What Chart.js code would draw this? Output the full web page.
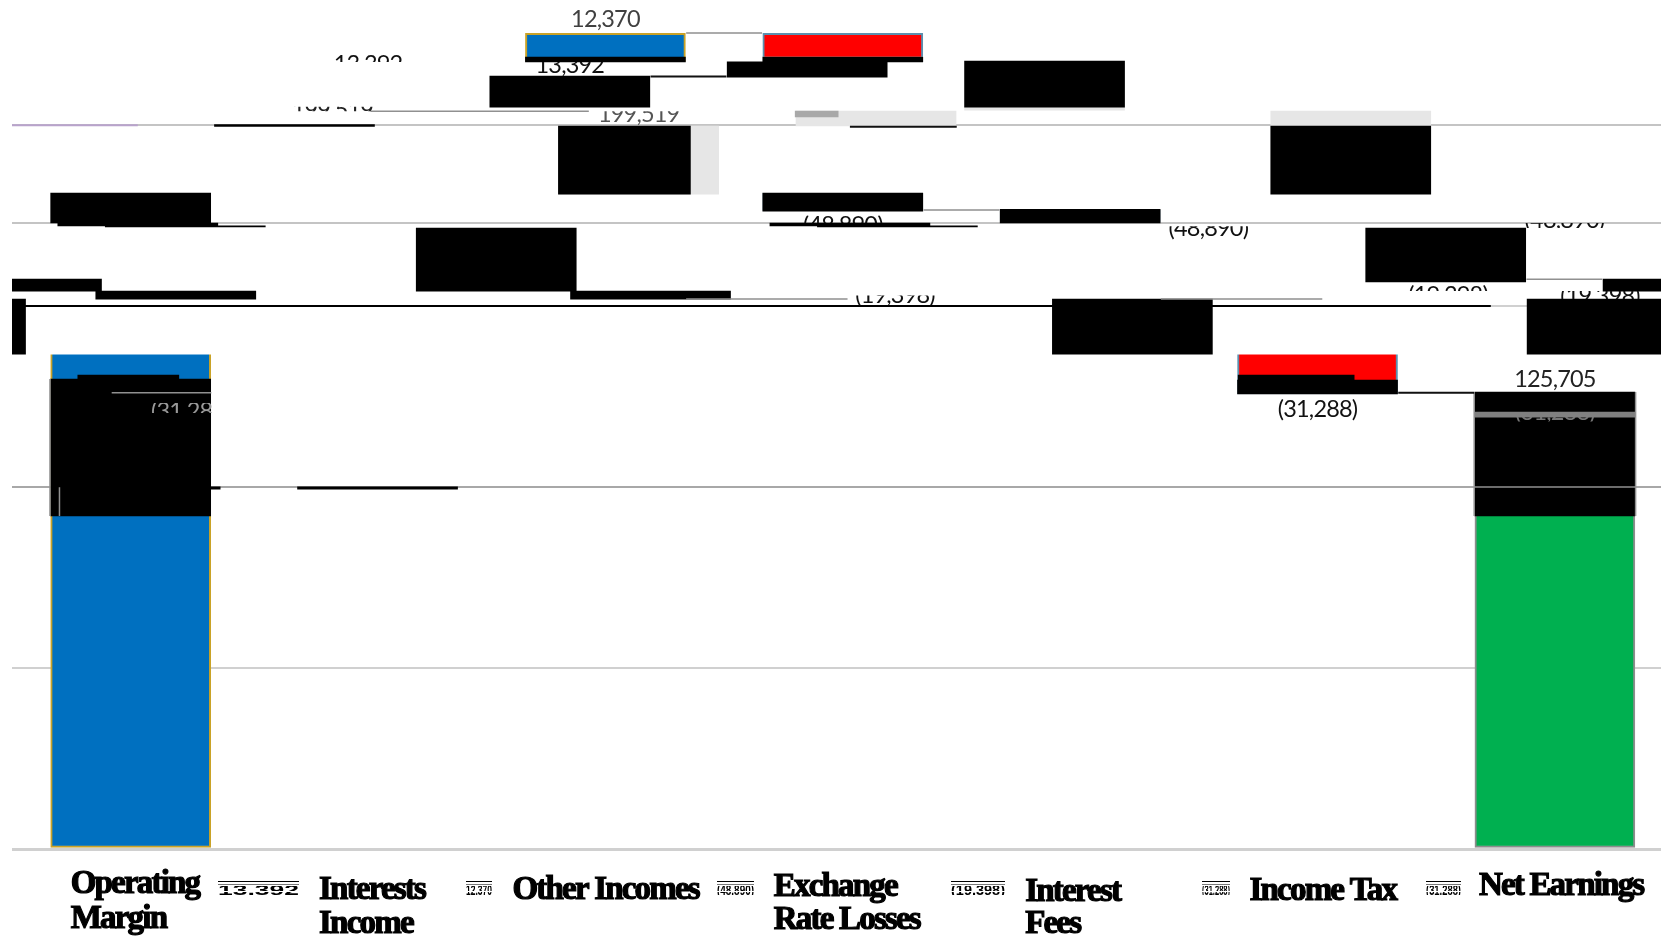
<!DOCTYPE html>
<html>
<head>
<meta charset="utf-8">
<title>Net earnings bridge</title>
<script src="https://cdn.jsdelivr.net/npm/chart.js@4"></script>
<style>
    html, body { margin: 0; padding: 0; background: #fff; overflow: hidden; }
    canvas { display: block; }
</style>
</head>
<body>
<canvas id="bridgeChart" width="1661" height="938"></canvas>
<script>
const categories = ['Operating Margin', 'Interests Income', 'Other Incomes', 'Exchange Rate Losses', 'Interest Fees', 'Income Tax', 'Net Earnings'];
const stepValues = [199519, 13392, 12370, -48890, -19398, -31288, 125705];
const stepFill = ['#0070C0', '#0070C0', '#0070C0', '#FF0000', '#FF0000', '#FF0000', '#00B050'];
const stepBorder = ['#C9A227', '#C9A227', '#C9A227', '#5B8FAE', '#5B8FAE', '#5B8FAE', '#8C8C8C'];

// white slices across the steps
const blankX = [0, 1, 2, 3, 4, 5];
const blankHigh = [199800, 213300, 217400, 218700, 172900, 157100];
const blankLow = [136700, 199300, 212700, 181200, 156700, 136700];

// black slices, all one step wide
const blackX = [2, 3, 2.85, 1.85, 3.85, 5.14, 0, 0.03, 0.23, 3, 4, 3.03, 3.23, 1.54, 2.19, 0.19, -0.46, -0.78, 4.22, 5.54, 6.54, 6.22, 0.69, 1.04, 0.04, 0, 5, 6];
const blackHigh = [218700, 218700, 217400, 213500, 217650, 199700, 181200, 172900, 172100, 181200, 176700, 172900, 172100, 171500, 154100, 154100, 157400, 151900, 151900, 171500, 157400, 151900, 200100, 100000, 100000, 129800, 129500, 126200];
const blackLow = [217400, 217400, 213200, 204900, 204900, 180900, 172900, 172100, 171800, 176200, 172900, 172100, 171800, 154100, 151900, 151900, 154100, 136700, 136700, 156600, 154100, 136700, 199600, 99400, 99400, 92000, 125700, 92000];

// narrower slices
const sliceX = [2.08];
const sliceHigh = [199700];
const sliceLow = [180900];
const notchOpX = [-0.01];
const notchOpHigh = [130900];
const notchOpLow = [129800];
const notchTaxX = [4.91];
const notchTaxHigh = [130900];
const notchTaxLow = [129500];
const darkPatchX = [2.89];
const darkPatchHigh = [203800];
const darkPatchLow = [202200];

// pale and mid grey slices
const paleX = [2.14, 3.14, 5.14, 3.85];
const paleHigh = [199700, 203800, 203800, 204900];
const paleLow = [180900, 199700, 199700, 204100];
const midGreyX = [6];
const midGreyHigh = [120700];
const midGreyLow = [119300];

// thin rules: start, end, start value, end value
const ruleX0 = [-0.5, -0.5];
const ruleX1 = [6.45, 6.45];
const ruleY0 = [172900, 200000];
const ruleY1 = [172900, 200000];

const blackRuleX0 = [-0.5];
const blackRuleX1 = [5.73];
const blackRuleY0 = [150000];
const blackRuleY1 = [150000];

const greyX0 = [1.01, 2.34, 2.34, 4.34, 5.88, 3.34, -0.08, -0.30, -0.34, 5.66, 6.34, 5.66];
const greyX1 = [1.93, 2.66, 3.02, 5.02, 6.2, 3.66, 0.34, -0.30, -0.34, 5.66, 6.34, 6.34];
const greyY0 = [203800, 225400, 151900, 151900, 157400, 176500, 126000, 99900, 129800, 126200, 126200, 100000];
const greyY1 = [203800, 225400, 151900, 151900, 157400, 176500, 126000, 92000, 92000, 92000, 92000, 100000];

const darkX0 = [2.19, 5.34, 3.03];
const darkX1 = [2.51, 5.66, 3.48];
const darkY0 = [213400, 126000, 199500];
const darkY1 = [213400, 126000, 199500];

const tintX0 = [-0.5];
const tintX1 = [0.03];
const tintY0 = [199900];
const tintY1 = [199900];

const tickValues = [0, 50000, 100000, 150000, 200000];

// value labels, some of them only partly showing
const formatStep = v => (v < 0 ? '(' + Math.abs(v).toLocaleString('en-US') + ')' : v.toLocaleString('en-US'));
const labelStep = [2, 1, 1, 0, 0, 3, 3, 4, 4, 4, 5, 5, 6, 3, 5];
const labelX = [2, 1, 1.85, 0.85, 2.14, 3, 4.54, 3.22, 5.55, 6.19, 0.215, 5, 6, 6.04, 6];
const labelY = [229200, 216800, 216500, 203900, 203000, 172350, 171500, 152900, 153000, 152500, 121000, 121300, 129800, 173700, 120700];
const labelClipHigh = [234000, 220000, 217400, 205000, 203800, 175000, 172000, 152900, 156300, 154100, 123200, 125000, 133000, 172900, 119300];
const labelClipLow = [224000, 217400, 213500, 203800, 200000, 172900, 168000, 150200, 154100, 151900, 120400, 118000, 126300, 171500, 118100];
const labelColor = ['#404040', '#111', '#111', '#222', '#555', '#111', '#111', '#111', '#111', '#111', '#999', '#111', '#222', '#111', '#777'];

// category names as they wrap under the axis
const tickLines = [['Operating', 'Margin'], ['Interests', 'Income'], ['Other Incomes'], ['Exchange', 'Rate Losses'], ['Interest', 'Fees'], ['Income Tax'], ['Net Earnings']];
const tickOffset = [-60, -49, -93, -69, -55, -68, -76];
const tickBaseline = [[893, 928], [899, 933], [899], [896, 929], [901, 933], [900], [895]];

// squashed value text left between the category names
const shardStep = [1, 2, 3, 4, 5, 5];
const shardLeft = [218, 466, 717, 951, 1202, 1426];
const shardRight = [299, 492, 754, 1005, 1230, 1461];

// waterfall: first and last from zero, the rest float on the running total
const stepBars = [];
let runningTotal = 0;
stepValues.forEach((v, i) => {
    if (i === 0 || i === stepValues.length - 1) {
        stepBars.push({ x: i, y: [0, v] });
        runningTotal = v;
    } else {
        stepBars.push({ x: i, y: [runningTotal, runningTotal + v] });
        runningTotal += v;
    }
});

function slices(xs, highs, lows) {
    return xs.map((x, i) => ({ x: x, y: [lows[i], highs[i]] }));
}

// pairs of points with a gap between them, for the line datasets
function segments(x0, x1, y0, y1) {
    const points = [];
    x0.forEach((x, i) => {
        points.push({ x: x, y: y0[i] }, { x: x1[i], y: y1[i] }, { x: x1[i], y: null });
    });
    return points;
}

function sliceDataset(data, color, order, thickness) {
    return { type: 'bar', data: data, backgroundColor: color, borderWidth: 0, barThickness: thickness, order: order };
}

function lineDataset(data, color, order, width) {
    return { type: 'line', data: data, borderColor: color, borderWidth: width, pointRadius: 0, spanGaps: false, tension: 0, fill: false, order: order };
}

// text drawn on the chart through its scales
const textPlugin = {
    id: 'bridgeText',
    afterDatasetsDraw(chart) {
        const { ctx } = chart;
        const xScale = chart.scales.x;
        const yScale = chart.scales.y;

        ctx.save();
        ctx.textAlign = 'center';
        ctx.textBaseline = 'middle';
        ctx.font = '23.5px Lato';
        ctx.letterSpacing = '-0.8px';
        labelStep.forEach((step, i) => {
            const top = yScale.getPixelForValue(labelClipHigh[i]);
            const bottom = yScale.getPixelForValue(labelClipLow[i]);
            let text = formatStep(stepValues[step]);
            if (i === 10) text = text.slice(0, 6);
            ctx.save();
            ctx.beginPath();
            ctx.rect(0, top, chart.width, bottom - top);
            ctx.clip();
            ctx.fillStyle = labelColor[i];
            ctx.fillText(text, xScale.getPixelForValue(labelX[i]), yScale.getPixelForValue(labelY[i]));
            ctx.restore();
        });
        ctx.restore();

        ctx.save();
        ctx.textAlign = 'left';
        ctx.textBaseline = 'alphabetic';
        ctx.fillStyle = '#000';
        ctx.strokeStyle = '#000';
        ctx.lineWidth = 1.2;
        ctx.font = 'bold 33px "Liberation Serif"';
        ctx.letterSpacing = '-1.8px';
        tickLines.forEach((lines, i) => {
            const left = xScale.getPixelForValue(i) + tickOffset[i];
            lines.forEach((line, n) => {
                ctx.fillText(line, left, tickBaseline[i][n]);
                ctx.strokeText(line, left, tickBaseline[i][n]);
            });
        });
        ctx.restore();

        ctx.save();
        ctx.fillStyle = '#000';
        ctx.font = 'bold 15px "Liberation Sans"';
        ctx.textBaseline = 'alphabetic';
        shardStep.forEach((step, i) => {
            const left = shardLeft[i];
            const width = shardRight[i] - left;
            const text = formatStep(stepValues[step]);
            ctx.fillRect(left, 881, width, 1);
            ctx.fillStyle = '#777';
            ctx.fillRect(left, 884, width, 1);
            ctx.fillStyle = '#000';
            ctx.save();
            ctx.beginPath();
            ctx.rect(left, 886, width, 5);
            ctx.rect(left, 892, width, 3);
            ctx.clip();
            ctx.translate(left, 895);
            ctx.scale(width / ctx.measureText(text).width, 1);
            ctx.fillText(text, 0, 0);
            ctx.restore();
        });
        ctx.restore();
    }
};

const bridgeChart = new Chart(document.getElementById('bridgeChart').getContext('2d'), {
    type: 'bar',
    data: {
        labels: categories,
        datasets: [
            {
                type: 'bar',
                data: stepBars,
                backgroundColor: stepFill,
                borderColor: stepBorder,
                borderWidth: 2,
                borderSkipped: false,
                barThickness: 160,
                order: 10
            },
            sliceDataset(slices(blankX, blankHigh, blankLow), '#FFFFFF', 9, 166),
            lineDataset(segments(ruleX0, ruleX1, ruleY0, ruleY1), '#C4C4C4', 8, 2),
            lineDataset(segments(blackRuleX0, blackRuleX1, blackRuleY0, blackRuleY1), '#000000', 8, 2),
            sliceDataset(slices(paleX, paleHigh, paleLow), '#E6E6E6', 7, 160),
            sliceDataset(slices(blackX, blackHigh, blackLow), '#000000', 6, 160),
            sliceDataset(slices(sliceX, sliceHigh, sliceLow), '#000000', 5, 132),
            sliceDataset(slices(notchOpX, notchOpHigh, notchOpLow), '#000000', 5, 101),
            sliceDataset(slices(notchTaxX, notchTaxHigh, notchTaxLow), '#000000', 5, 116),
            sliceDataset(slices(darkPatchX, darkPatchHigh, darkPatchLow), '#A8A8A8', 5, 43),
            sliceDataset(slices(midGreyX, midGreyHigh, midGreyLow), '#808080', 4, 160),
            lineDataset(segments(greyX0, greyX1, greyY0, greyY1), '#909090', 3, 1.5),
            lineDataset(segments(darkX0, darkX1, darkY0, darkY1), '#111111', 2, 2),
            lineDataset(segments(tintX0, tintX1, tintY0, tintY1), '#B9A3CC', 1, 2)
        ]
    },
    options: {
        responsive: false,
        animation: false,
        layout: { padding: { left: 12, right: 0, top: 0, bottom: 89 } },
        datasets: { bar: { grouped: false } },
        plugins: { legend: { display: false }, tooltip: { enabled: false } },
        scales: {
            x: {
                type: 'linear',
                display: false,
                offset: false,
                min: -0.5,
                max: 6.447
            },
            y: {
                min: 0,
                max: 234500,
                afterBuildTicks: axis => { axis.ticks = tickValues.map(v => ({ value: v })); },
                afterFit: axis => { axis.width = 0; },
                border: { display: false },
                ticks: { display: false },
                grid: {
                    drawTicks: false,
                    color: c => (c.tick.value === 100000 ? '#A8A8A8' : '#D0D0D0'),
                    lineWidth: c => (c.tick.value === 0 ? 3 : 2)
                }
            }
        }
    },
    plugins: [textPlugin]
});
</script>
</body>
</html>
